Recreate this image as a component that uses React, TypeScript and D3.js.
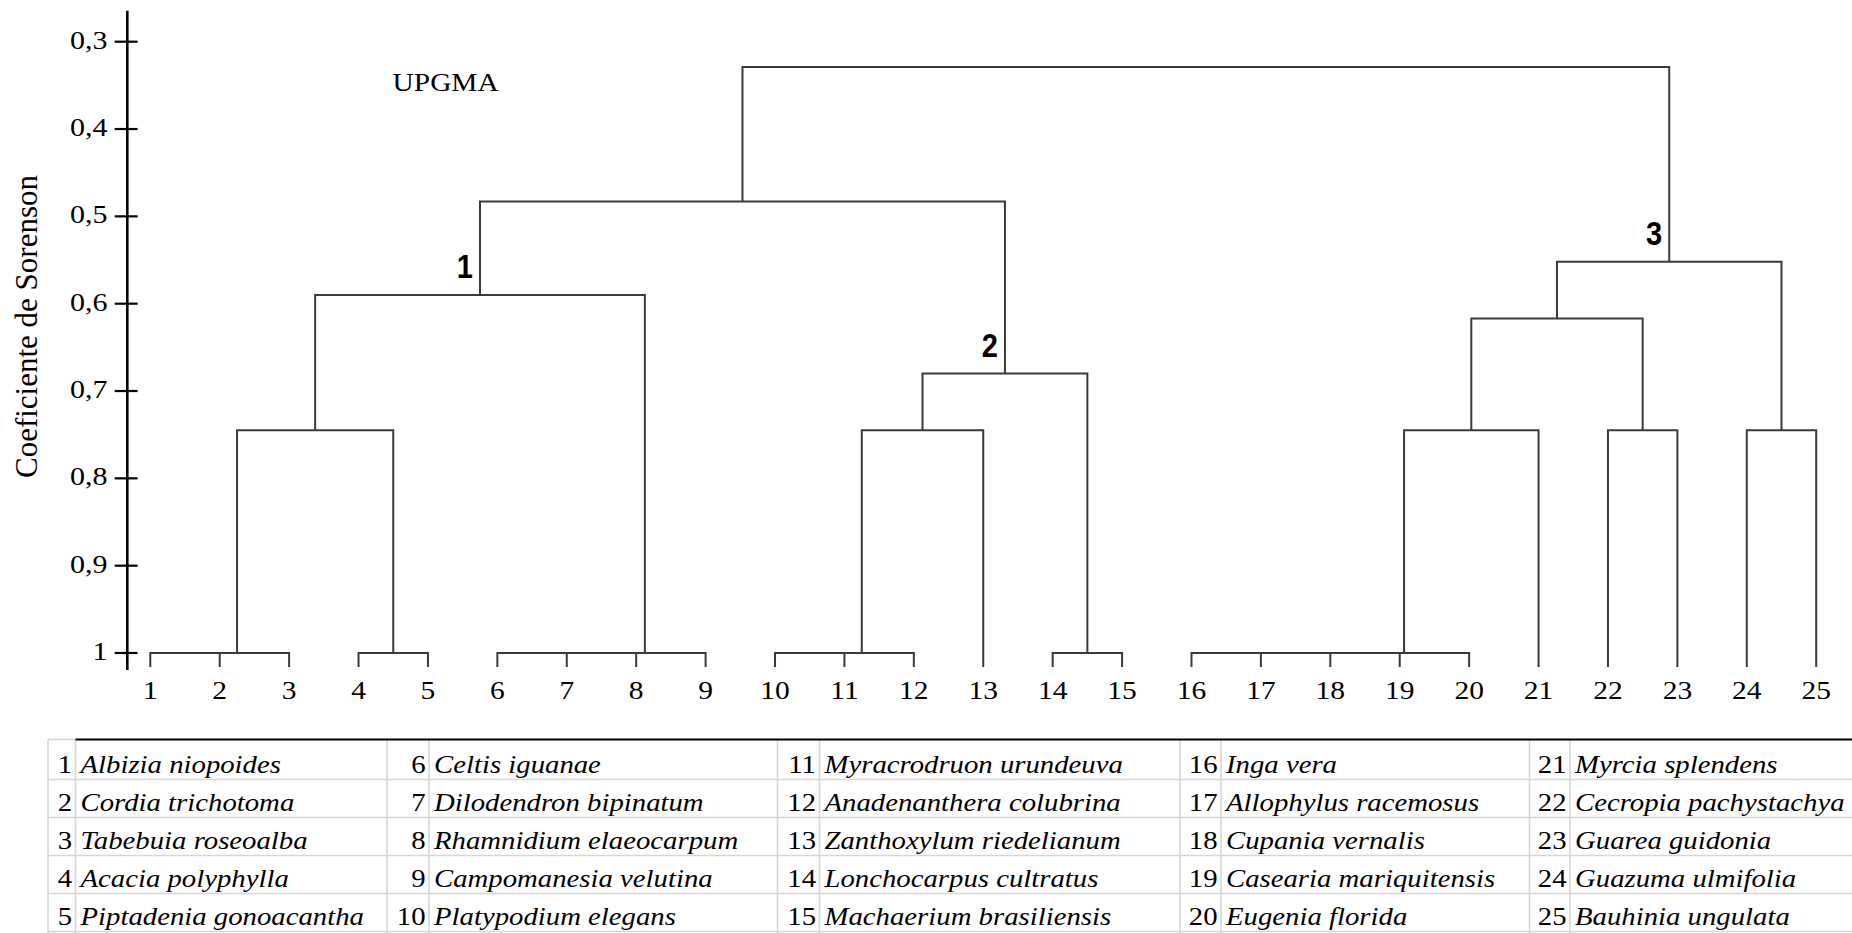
import React from 'react';
import * as d3 from 'd3';

// species in leaf order (leaf n = speciesNames[n - 1])
const speciesNames = [
  'Albizia niopoides', 'Cordia trichotoma', 'Tabebuia roseoalba', 'Acacia polyphylla', 'Piptadenia gonoacantha',
  'Celtis iguanae', 'Dilodendron bipinatum', 'Rhamnidium elaeocarpum', 'Campomanesia velutina', 'Platypodium elegans',
  'Myracrodruon urundeuva', 'Anadenanthera colubrina', 'Zanthoxylum riedelianum', 'Lonchocarpus cultratus', 'Machaerium brasiliensis',
  'Inga vera', 'Allophylus racemosus', 'Cupania vernalis', 'Casearia mariquitensis', 'Eugenia florida',
  'Myrcia splendens', 'Cecropia pachystachya', 'Guarea guidonia', 'Guazuma ulmifolia', 'Bauhinia ungulata',
];
const leafIds = d3.range(1, 26);

// UPGMA merges: leaves are 1..25, merge k creates node 26 + k
const mergeLeft = [1, 26, 4, 27, 6, 30, 31, 29, 10, 34, 35, 14, 36, 33, 16, 40, 41, 42, 43, 22, 44, 24, 46, 39];
const mergeRight = [2, 3, 5, 28, 7, 8, 9, 32, 11, 12, 13, 15, 37, 38, 17, 18, 19, 20, 21, 23, 45, 25, 47, 48];
const mergeHeight = [1, 1, 1, 0.745, 1, 1, 1, 0.59, 1, 1, 0.745, 1, 0.68, 0.483, 1, 1, 1, 1, 0.745, 0.745, 0.617, 0.745, 0.552, 0.329];

// group labels put on merge nodes
const groupNodes = [33, 38, 48];
const groupLabels = ['1', '2', '3'];

const yTicks = [0.3, 0.4, 0.5, 0.6, 0.7, 0.8, 0.9, 1];

const W = 1852, H = 933;
const serif = '"Liberation Serif", "Times New Roman", serif';
const lineColor = '#3a3a3a';

const commaFmt = d3.formatLocale({ decimal: ',', thousands: '.', grouping: [3], currency: ['', ''] }).format('.1~f');

// table layout
const colLeft = [48, 387, 777.5, 1180, 1529.5];
const numWidth = [27.5, 42, 42, 41, 40.5];
const tableTop = 739.5;

const buildTree = () => {
  const nodes: any = {};
  leafIds.forEach(id => { nodes[id] = { id, h: 1, children: null }; });
  mergeLeft.forEach((a, k) => {
    const id = 26 + k;
    nodes[id] = { id, h: mergeHeight[k], children: [nodes[a], nodes[mergeRight[k]]] };
  });
  return d3.hierarchy(nodes[25 + mergeLeft.length], (d: any) => d.children);
};

const App = () => {
  const x = d3.scalePoint<number>().domain(leafIds).range([150.3, 1816.2]);
  const y = d3.scaleLinear().domain([0.3, 1]).range([41.7, 653]);
  const leafBottom = y(1) + 13;

  const root = buildTree();
  root.eachAfter((n: any) => {
    n.px = n.children ? (n.children[0].px + n.children[1].px) / 2 : x(n.data.id);
  });

  const segs: string[] = [];
  root.each((n: any) => {
    if (!n.children) return;
    const py = y(n.data.h);
    const [a, b] = n.children;
    segs.push(`M${a.px},${py}H${b.px}`);
    n.children.forEach((c: any) => {
      const cy = c.children ? y(c.data.h) : leafBottom;
      segs.push(`M${c.px},${py}V${cy}`);
    });
  });

  const byId: any = {};
  root.each((n: any) => { byId[n.data.id] = n; });

  const rowY = d3.scaleLinear().domain([0, 5]).range([741.5, 931.5]);
  const axisX = 127.3;

  return (
    <svg width={W} height={H} style={{ position: 'absolute', left: 0, top: 0, background: '#fff' }}>
      {/* y axis */}
      <line x1={axisX} x2={axisX} y1={10.7} y2={670} stroke="#000" strokeWidth={2.6} />
      {yTicks.map(t => (
        <g key={t}>
          <line x1={114.7} x2={137.6} y1={y(t)} y2={y(t)} stroke="#000" strokeWidth={2.2} />
          <text transform={`translate(107.5,${y(t) + 7}) scale(1.2,1)`} textAnchor="end"
            fontFamily={serif} fontSize={25} fill="#000">{commaFmt(t)}</text>
        </g>
      ))}
      <text transform="translate(37,326.5) rotate(-90)" textAnchor="middle" fontFamily={serif}
        fontSize={31} fill="#000">Coeficiente de Sorenson</text>

      <text transform="translate(392.6,90.7) scale(1.13,1)" fontFamily={serif} fontSize={26} fill="#000">UPGMA</text>

      {/* dendrogram */}
      <path d={segs.join('')} fill="none" stroke={lineColor} strokeWidth={2} strokeLinecap="square" />

      {groupNodes.map((id, i) => {
        const n = byId[id];
        return (
          <text key={id} transform={`translate(${n.px - 7},${y(n.data.h) - 17}) scale(0.88,1)`} textAnchor="end"
            fontFamily='"Liberation Sans", Arial, sans-serif' fontWeight="bold" fontSize={33}
            fill="#000">{groupLabels[i]}</text>
        );
      })}

      {leafIds.map(id => (
        <text key={id} transform={`translate(${x(id)},699.3) scale(1.18,1)`} textAnchor="middle"
          fontFamily={serif} fontSize={25} fill="#000">{id}</text>
      ))}

      {/* species table */}
      <g>
        {d3.range(1, 6).map(i => (
          <line key={'h' + i} x1={48} x2={W} y1={rowY(i)} y2={rowY(i)} stroke="#d6d6d6" strokeWidth={1.6} />
        ))}
        <line x1={48} x2={75.5} y1={tableTop} y2={tableTop} stroke="#d6d6d6" strokeWidth={1.6} />
        {colLeft.map((cx, c) => (
          <g key={'v' + c}>
            <line x1={cx} x2={cx} y1={tableTop} y2={H} stroke="#d6d6d6" strokeWidth={1.6} />
            <line x1={cx + numWidth[c]} x2={cx + numWidth[c]} y1={tableTop} y2={H} stroke="#d6d6d6" strokeWidth={1.6} />
          </g>
        ))}
        <line x1={75.5} x2={W} y1={tableTop} y2={tableTop} stroke="#000" strokeWidth={2.2} />
        {speciesNames.map((name, k) => {
          const c = Math.floor(k / 5), r = k % 5;
          const div = colLeft[c] + numWidth[c];
          const by = rowY(r + 1) - 7;
          return (
            <g key={name}>
              <text transform={`translate(${div - 3.5},${by}) scale(1.15,1)`} textAnchor="end"
                fontFamily={serif} fontSize={25} fill="#000">{k + 1}</text>
              <text transform={`translate(${div + 5},${by}) scale(1.15,1)`} fontFamily={serif}
                fontStyle="italic" fontSize={25} fill="#000">{name}</text>
            </g>
          );
        })}
      </g>
    </svg>
  );
};

export default App;
